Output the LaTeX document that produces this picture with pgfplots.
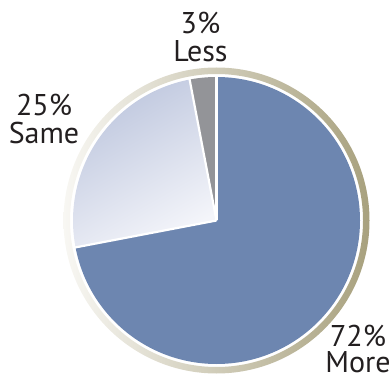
\documentclass[border=0pt]{standalone}
\usepackage{pgfplots}
\usepackage{pgfplotstable}
\pgfplotsset{compat=1.18}
\usepackage{fontspec}
\setmainfont{PT Sans}
\definecolor{more}{HTML}{6D86B0}
\definecolor{less}{HTML}{939498}
\definecolor{sameD}{HTML}{BCC5DD}
\definecolor{sameL}{HTML}{F4F5FA}
\definecolor{ringL}{HTML}{F8F7F3}
\definecolor{ringR}{HTML}{A8A17E}
\definecolor{txt}{HTML}{231F20}
\pgfplotstableread{
label value
More 72
Same 25
Less 3
}\piedata
\begin{document}
\begin{tikzpicture}
\pgfplotstablegetelem{0}{value}\of\piedata \let\vMore\pgfplotsretval
\pgfplotstablegetelem{1}{value}\of\piedata \let\vSame\pgfplotsretval
\pgfplotstablegetelem{2}{value}\of\piedata \let\vLess\pgfplotsretval
\pgfmathsetmacro\aA{90}
\pgfmathsetmacro\aB{90-3.6*\vMore}
\pgfmathsetmacro\aC{\aB-3.6*\vSame}
\pgfmathsetmacro\aD{\aC-3.6*\vLess}
\begin{axis}[hide axis, scale only axis, width=391bp, height=380bp,
  xmin=0, xmax=391, ymin=0, ymax=380, clip=false]
  \shade[left color=ringL, right color=ringR, even odd rule]
    (axis cs:216.5,159.5) circle[radius=153bp]
    (axis cs:216.5,159.5) circle[radius=146.5bp];
  \fill[more] (axis cs:216.5,159.5) -- ++(\aA:143.5bp)
    arc[start angle=\aA, end angle=\aB, radius=143.5bp] -- cycle;
  \shade[top color=sameD, bottom color=sameL, shading angle=30]
    (axis cs:216.5,159.5) -- ++(\aB:143.5bp)
    arc[start angle=\aB, end angle=\aC, radius=143.5bp] -- cycle;
  \fill[less] (axis cs:216.5,159.5) -- ++(\aC:143.5bp)
    arc[start angle=\aC, end angle=\aD, radius=143.5bp] -- cycle;
  \draw[white, line width=2.2bp] (axis cs:216.5,159.5) -- ++(\aA:145bp);
  \draw[white, line width=2.2bp] (axis cs:216.5,159.5) -- ++(\aB:145bp);
  \draw[white, line width=2.2bp] (axis cs:216.5,159.5) -- ++(\aC:145bp);
  \begin{scope}[every node/.style={anchor=base, inner sep=0pt, text=txt, align=center}]
    \node[font=\fontsize{30bp}{28bp}\selectfont] at (axis cs:200.5,319) {3\%\\Less};
    \node[font=\fontsize{30bp}{28bp}\selectfont] at (axis cs:44,237) {25\%\\Same};
    \node[font=\fontsize{30bp}{26bp}\selectfont] at (axis cs:358,8) {72\%\\More};
  \end{scope}
\end{axis}
\pgfresetboundingbox
\useasboundingbox (current axis.south west) rectangle (current axis.north east);
\end{tikzpicture}
\end{document}
